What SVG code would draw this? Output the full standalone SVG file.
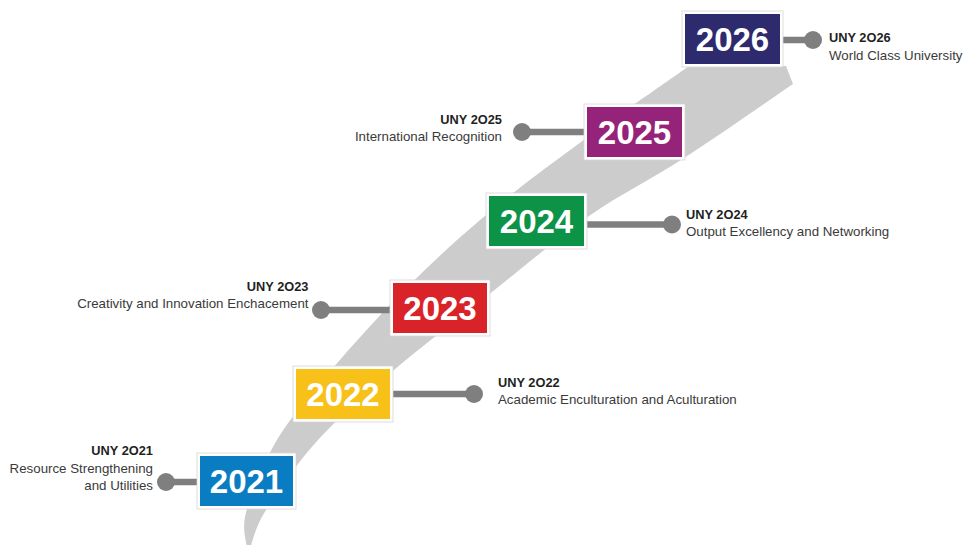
<svg xmlns="http://www.w3.org/2000/svg" width="963" height="545" viewBox="0 0 963 545">
  <style>
    .frame { fill: #ffffff; stroke: #d4d4d4; stroke-width: 0.8; }
    .year { font-family: "Liberation Sans", Arial, sans-serif; font-weight: bold; font-size: 33px; fill: #ffffff; text-anchor: middle; }
    .ttl { font-family: "Liberation Sans", Arial, sans-serif; font-weight: bold; font-size: 12.8px; fill: #1f1f1f; }
    .txt { font-family: "Liberation Sans", Arial, sans-serif; font-size: 13.3px; fill: #3a3a3a; }
    .end { text-anchor: end; }
    .conn line { stroke: #7f7f7f; stroke-width: 6.5; }
    .conn circle { fill: #7f7f7f; }
  </style>
  <rect width="963" height="545" fill="#ffffff"/>

  <path id="ribbon" fill="#cccccc" d="M689,66 L786,66 L793,84
    C774.8,96.3 718,136 684,158
    C650,180 621,193.7 589,216
    C557,238.3 524.5,266.3 492,292
    C459.5,317.7 423,345.3 394,370
    C365,394.7 339.3,416.7 318,440
    C296.7,463.3 277.3,492 266,510
    C254.7,528 252.7,541.7 250,548
    L247,548
    C246.7,542.8 242.2,530.8 245,517
    C247.8,503.2 255.2,482.8 264,465
    C272.8,447.2 277.3,436.3 298,410
    C318.7,383.7 357.7,338.7 388,307
    C418.3,275.3 447.8,247.5 480,220
    C512.2,192.5 546,167.7 581,142
    C616,116.3 671.8,78.7 689,66 Z"/>

  <g id="connectors" class="conn">
    <line x1="166" y1="482" x2="200" y2="482"/><circle cx="166" cy="482" r="9"/>
    <line x1="390" y1="394" x2="474" y2="394"/><circle cx="474" cy="394" r="9"/>
    <line x1="321" y1="310" x2="393" y2="310"/><circle cx="321" cy="310" r="9"/>
    <line x1="584" y1="224.5" x2="672" y2="224.5"/><circle cx="672" cy="224.5" r="9"/>
    <line x1="522" y1="132" x2="587" y2="132"/><circle cx="522" cy="132" r="9"/>
    <line x1="780" y1="40" x2="813" y2="40"/><circle cx="813" cy="40" r="9"/>
  </g>

  <g id="node-2021">
    <rect class="frame" x="197" y="453" width="99" height="56"/>
    <rect x="200" y="456" width="93" height="50" fill="#0a7dc2"/>
    <text class="year" x="246.5" y="493">2021</text>
    <text class="ttl end" x="153" y="455">UNY 2O21</text>
    <text class="txt end" x="153" y="472.5">Resource Strengthening</text>
    <text class="txt end" x="153" y="490">and Utilities</text>
  </g>

  <g id="node-2022">
    <rect class="frame" x="293" y="366" width="100" height="56"/>
    <rect x="296" y="369" width="94" height="50" fill="#f8c11a"/>
    <text class="year" x="343" y="406">2022</text>
    <text class="ttl" x="498" y="386.5">UNY 2O22</text>
    <text class="txt" x="498" y="403.5">Academic Enculturation and Aculturation</text>
  </g>

  <g id="node-2023">
    <rect class="frame" x="390" y="280" width="100" height="56"/>
    <rect x="393" y="283" width="94" height="50" fill="#da2328"/>
    <text class="year" x="440" y="320">2023</text>
    <text class="ttl end" x="308.5" y="290.5">UNY 2O23</text>
    <text class="txt end" x="308.5" y="307.5">Creativity and Innovation Enchacement</text>
  </g>

  <g id="node-2024">
    <rect class="frame" x="486" y="193" width="101" height="56"/>
    <rect x="489" y="196" width="95" height="50" fill="#0c9347"/>
    <text class="year" x="536.5" y="233">2024</text>
    <text class="ttl" x="686" y="218.5">UNY 2O24</text>
    <text class="txt" x="686" y="236">Output Excellency and Networking</text>
  </g>

  <g id="node-2025">
    <rect class="frame" x="584" y="104" width="101" height="56"/>
    <rect x="587" y="107" width="95" height="50" fill="#952379"/>
    <text class="year" x="634.5" y="144">2025</text>
    <text class="ttl end" x="502" y="123.5">UNY 2O25</text>
    <text class="txt end" x="502" y="141">International Recognition</text>
  </g>

  <g id="node-2026">
    <rect class="frame" x="682" y="11" width="101" height="56"/>
    <rect x="685" y="14" width="95" height="50" fill="#2d2a6e"/>
    <text class="year" x="732.5" y="51">2026</text>
    <text class="ttl" x="829" y="42">UNY 2O26</text>
    <text class="txt" x="829" y="59.5">World Class University</text>
  </g>
</svg>
